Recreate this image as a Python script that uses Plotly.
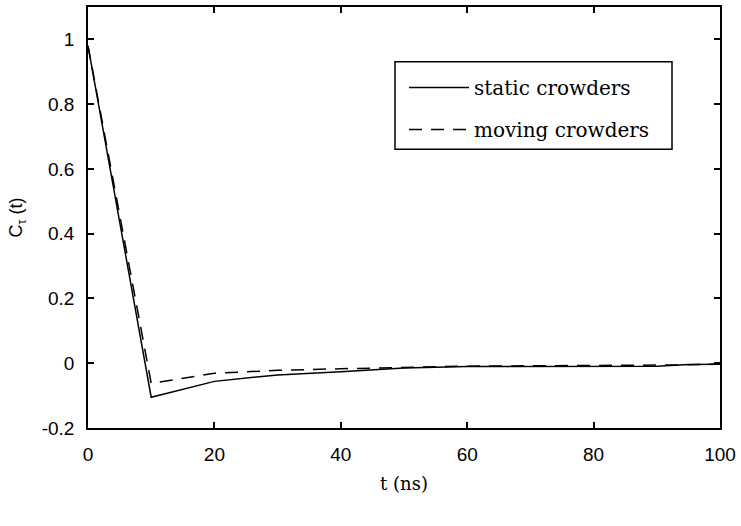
"""Autocorrelation C_tau(t) for static vs moving crowders."""

import plotly.graph_objects as go

t_ns = [0, 10, 20, 30, 40, 50, 60, 70, 80, 90, 95, 100]
static_crowders = [0.98, -0.105, -0.056, -0.036, -0.026, -0.015, -0.010, -0.009,
                   -0.009, -0.009, -0.004, -0.003]
moving_crowders = [0.98, -0.062, -0.031, -0.022, -0.017, -0.012, -0.009, -0.008,
                   -0.007, -0.007, -0.005, -0.002]

SANS = "Liberation Sans, Arial, sans-serif"
SERIF = "DejaVu Serif, Liberation Serif, serif"

fig = go.Figure()
fig.add_trace(go.Scatter(
    x=t_ns, y=static_crowders, mode="lines", name="static crowders",
    line=dict(color="black", width=1.5), legend="legend",
))
fig.add_trace(go.Scatter(
    x=t_ns, y=moving_crowders, mode="lines", name="moving crowders",
    line=dict(color="black", width=1.5, dash="13px,9px"), legend="legend2",
))

axis_common = dict(
    showline=True, linecolor="black", linewidth=1.5, mirror="ticks",
    ticks="inside", ticklen=6, tickwidth=1.5, tickcolor="black",
    showgrid=False, zeroline=False,
    tickfont=dict(family=SANS, size=19, color="black"),
)

# one legend per entry so the row spacing can match the boxed key
entry = dict(
    bgcolor="rgba(0,0,0,0)", borderwidth=0,
    font=dict(family=SERIF, size=20, color="black"),
    xanchor="left", yanchor="middle", x=0.5, itemwidth=60,
)

fig.update_layout(
    width=741, height=526,
    margin=dict(l=88, r=21, t=5, b=98),
    plot_bgcolor="white", paper_bgcolor="white",
    xaxis=dict(range=[0, 100], dtick=20, ticklabelstandoff=8,
               title=dict(text="t (ns)", standoff=14,
                          font=dict(family=SERIF, size=18, color="black")),
               **axis_common),
    yaxis=dict(range=[-0.2, 1.1], tickvals=[-0.2, 0, 0.2, 0.4, 0.6, 0.8, 1],
               ticktext=["-0.2", "0", "0.2", "0.4", "0.6", "0.8", "1"],
               ticklabelstandoff=8,
               title=dict(text="C<sub>τ</sub> (t)", standoff=14,
                          font=dict(family=SANS, size=18, color="black")),
               **axis_common),
    legend=dict(y=(428 - 86) / 423, **entry),
    legend2=dict(y=(428 - 128) / 423, **entry),
    shapes=[dict(type="rect", xref="paper", yref="paper",
                 x0=(395 - 88) / 632, x1=(672 - 88) / 632,
                 y0=(428 - 148) / 423, y1=(428 - 60) / 423,
                 line=dict(color="black", width=1.5))],
    showlegend=True,
)

fig.write_html("out.html", config={"displayModeBar": False},
               post_script="document.body.style.margin='0';")
